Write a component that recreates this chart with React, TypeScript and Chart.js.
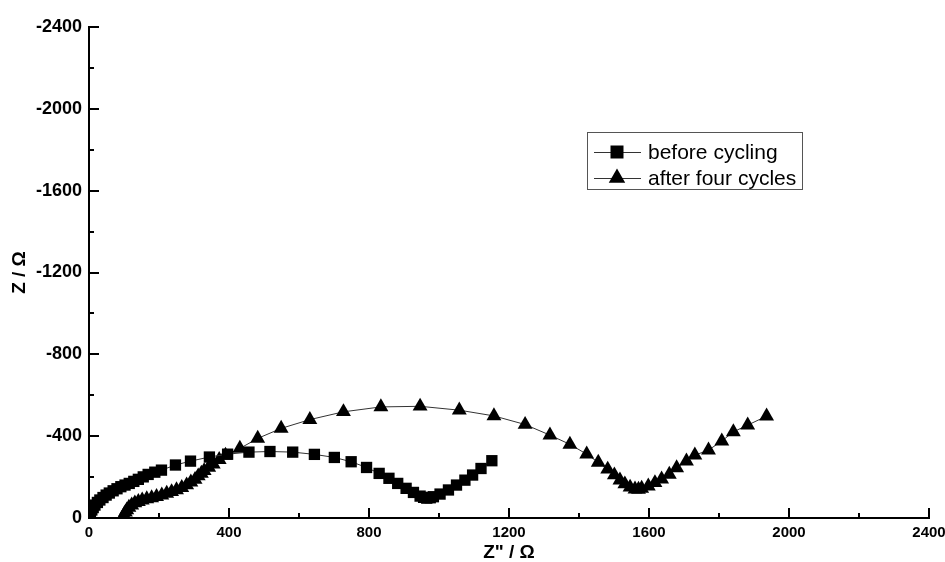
import React, { useEffect, useRef } from "react";
import { Chart, registerables } from "chart.js";

Chart.register(...registerables);

// Z' (real part, Ω) and Z'' (imaginary part, Ω) for each series
const beforeRe = [0, 1, 4, 8, 12, 17, 24, 31, 40, 49, 58, 69, 80, 91, 103, 115, 128, 141, 155, 169, 188, 207, 247, 290, 344, 396, 457, 517, 582, 644, 701, 749, 793, 829, 857, 882, 906, 927, 946, 956, 965, 975, 984, 1003, 1027, 1050, 1074, 1096, 1120, 1151];
const beforeIm = [0, -15, -27, -39, -51, -63, -76, -88, -100, -112, -122, -133, -143, -153, -161, -169, -179, -189, -201, -213, -224, -234, -259, -278, -298, -312, -322, -325, -322, -311, -296, -275, -247, -218, -194, -169, -145, -125, -107, -101, -97, -99, -104, -117, -137, -161, -185, -210, -242, -280];

const afterRe = [98, 100, 104, 108, 114, 122, 131, 141, 152, 165, 179, 193, 208, 222, 236, 250, 265, 279, 291, 303, 312, 321, 329, 342, 355, 372, 390, 431, 482, 549, 631, 727, 834, 946, 1058, 1157, 1246, 1317, 1374, 1422, 1455, 1482, 1501, 1517, 1531, 1546, 1560, 1570, 1579, 1598, 1617, 1636, 1658, 1679, 1707, 1731, 1770, 1808, 1841, 1882, 1936];
const afterIm = [0, -15, -28, -39, -52, -63, -73, -80, -87, -93, -98, -104, -112, -120, -128, -137, -148, -161, -175, -188, -205, -218, -231, -247, -263, -285, -306, -340, -389, -438, -481, -519, -543, -546, -527, -499, -457, -405, -360, -312, -272, -238, -210, -185, -166, -150, -141, -140, -145, -156, -172, -190, -213, -245, -278, -307, -332, -376, -421, -454, -498];

const seriesLabels = ["before cycling", "after four cycles"];
const seriesStyles = ["rect", "triangle"];

const xMin = 0;
const xMax = 2400;
const yMin = -2400;
const yMax = 0;
const majorStep = 400;
const minorStep = 200;

const xTitle = 'Z" / Ω';
const yTitle = "Z / Ω";

const FONT = "'Liberation Sans', Arial, Helvetica, sans-serif";

function toPoints(xs: number[], ys: number[]) {
  return xs.map((x, i) => ({ x, y: ys[i] }));
}

function drawMarker(ctx: CanvasRenderingContext2D, style: string, cx: number, cy: number) {
  ctx.beginPath();
  if (style === "rect") {
    const s = 6.5;
    ctx.rect(cx - s, cy - s, 2 * s, 2 * s);
  } else {
    const r = 9.5;
    ctx.moveTo(cx, cy - r);
    ctx.lineTo(cx + r * 0.866, cy + r * 0.5);
    ctx.lineTo(cx - r * 0.866, cy + r * 0.5);
    ctx.closePath();
  }
  ctx.fillStyle = "#000";
  ctx.fill();
}

const inwardTicks = {
  id: "inwardTicks",
  afterDraw(chart: any) {
    const { ctx, scales } = chart;
    const xs = scales.x;
    const ys = scales.y;
    ctx.save();
    ctx.strokeStyle = "#000";
    ctx.lineWidth = 2;
    for (let v = xMin; v <= xMax; v += minorStep) {
      const len = v % majorStep === 0 ? 10 : 5;
      const px = Math.round(xs.getPixelForValue(v));
      ctx.beginPath();
      ctx.moveTo(px, ys.bottom);
      ctx.lineTo(px, ys.bottom - len);
      ctx.stroke();
    }
    for (let v = yMin; v <= yMax; v += minorStep) {
      const len = v % majorStep === 0 ? 10 : 5;
      const py = Math.round(ys.getPixelForValue(v));
      ctx.beginPath();
      ctx.moveTo(xs.left, py);
      ctx.lineTo(xs.left + len, py);
      ctx.stroke();
    }
    ctx.restore();
  },
};

const boxLegend = {
  id: "boxLegend",
  afterDraw(chart: any) {
    const { ctx } = chart;
    const bx = 587, by = 132, bw = 215, bh = 57;
    ctx.save();
    ctx.strokeStyle = "#555";
    ctx.lineWidth = 1;
    ctx.strokeRect(bx + 0.5, by + 0.5, bw, bh);
    chart.data.datasets.forEach((ds: any, i: number) => {
      const cy = by + 20 + i * 26;
      ctx.strokeStyle = "#333";
      ctx.lineWidth = 1;
      ctx.beginPath();
      ctx.moveTo(bx + 7, cy + 0.5);
      ctx.lineTo(bx + 54, cy + 0.5);
      ctx.stroke();
      drawMarker(ctx, ds.pointStyle, bx + 30, cy);
      ctx.fillStyle = "#000";
      ctx.font = `21px ${FONT}`;
      ctx.textBaseline = "middle";
      ctx.textAlign = "left";
      ctx.fillText(ds.label, bx + 61, cy + 1);
    });
    ctx.restore();
  },
};

export default function App() {
  const ref = useRef<HTMLCanvasElement | null>(null);

  useEffect(() => {
    if (!ref.current) return;
    const chart = new Chart(ref.current, {
      type: "line",
      data: {
        datasets: [
          {
            label: seriesLabels[0],
            data: toPoints(beforeRe, beforeIm),
            borderColor: "#333",
            borderWidth: 1,
            pointStyle: seriesStyles[0] as any,
            pointRadius: 8,
            pointBackgroundColor: "#000",
            pointBorderWidth: 0,
            tension: 0,
            fill: false,
          },
          {
            label: seriesLabels[1],
            data: toPoints(afterRe, afterIm),
            borderColor: "#333",
            borderWidth: 1,
            pointStyle: seriesStyles[1] as any,
            pointRadius: 8.6,
            pointBackgroundColor: "#000",
            pointBorderWidth: 0,
            tension: 0,
            fill: false,
          },
        ],
      },
      options: {
        responsive: false,
        animation: false,
        layout: { padding: { top: 27, right: 16, left: 0, bottom: 0 } },
        plugins: {
          legend: { display: false },
          tooltip: { enabled: false },
        },
        scales: {
          x: {
            type: "linear",
            min: xMin,
            max: xMax,
            grid: { display: false, drawTicks: false },
            border: { display: true, color: "#000", width: 2 },
            ticks: {
              stepSize: majorStep,
              color: "#000",
              padding: 6,
              maxRotation: 0,
              font: { family: FONT, size: 15, weight: "bold" },
              callback: (v: any) => String(v),
            },
            title: {
              display: true,
              text: xTitle,
              color: "#000",
              font: { family: FONT, size: 19, weight: "bold", lineHeight: 1 },
              padding: { top: 0, bottom: 0 },
            },
            afterFit: (s: any) => {
              s.height = 44;
              s.paddingLeft = 0;
              s.paddingRight = 0;
            },
          },
          y: {
            type: "linear",
            min: yMin,
            max: yMax,
            reverse: true,
            grid: { display: false, drawTicks: false },
            border: { display: true, color: "#000", width: 2 },
            ticks: {
              stepSize: majorStep,
              color: "#000",
              padding: 7,
              font: { family: FONT, size: 18, weight: "bold" },
              callback: (v: any) => String(v),
            },
            title: {
              display: true,
              text: yTitle,
              color: "#000",
              font: { family: FONT, size: 19, weight: "bold", lineHeight: 1 },
              padding: { top: 10, bottom: 0 },
            },
            afterFit: (s: any) => {
              s.width = 89;
              s.paddingTop = 0;
              s.paddingBottom = 0;
            },
          },
        },
      },
      plugins: [inwardTicks, boxLegend],
    });
    return () => chart.destroy();
  }, []);

  return (
    <div style={{ position: "absolute", left: 0, top: 0, width: 945, height: 562, background: "#fff" }}>
      <canvas ref={ref} width={945} height={562} />
    </div>
  );
}
